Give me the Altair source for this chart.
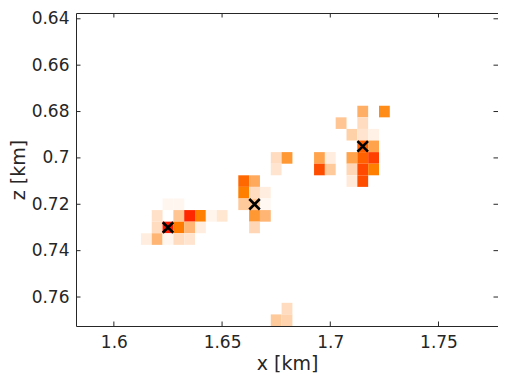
import altair as alt
import pandas as pd

# Heatmap cells (cell centers, km) and their relative intensity
cell_x = [1.625, 1.63,
          1.62, 1.63, 1.635, 1.64, 1.645, 1.65,
          1.62, 1.625, 1.63, 1.635, 1.64,
          1.615, 1.62, 1.625, 1.63, 1.635,
          1.675, 1.68,
          1.675,
          1.66, 1.665,
          1.66, 1.665, 1.67,
          1.66, 1.665, 1.67,
          1.665, 1.67,
          1.665,
          1.715, 1.725,
          1.705, 1.715,
          1.71, 1.715, 1.72,
          1.715, 1.72,
          1.695, 1.70, 1.71, 1.715, 1.72,
          1.695, 1.70, 1.71, 1.715, 1.72,
          1.71, 1.715,
          1.675, 1.68, 1.68]
cell_z = [0.72, 0.72,
          0.725, 0.725, 0.725, 0.725, 0.725, 0.725,
          0.73, 0.73, 0.73, 0.73, 0.73,
          0.735, 0.735, 0.735, 0.735, 0.735,
          0.70, 0.70,
          0.705,
          0.71, 0.71,
          0.715, 0.715, 0.715,
          0.72, 0.72, 0.72,
          0.725, 0.725,
          0.73,
          0.68, 0.68,
          0.685, 0.685,
          0.69, 0.69, 0.69,
          0.695, 0.695,
          0.70, 0.70, 0.70, 0.70, 0.70,
          0.705, 0.705, 0.705, 0.705, 0.705,
          0.71, 0.71,
          0.77, 0.765, 0.77]
cell_v = [0.05, 0.05,
          0.17, 0.30, 0.95, 0.60, 0.06, 0.14,
          0.20, 1.00, 0.62, 0.37, 0.10,
          0.10, 0.37, 0.05, 0.20, 0.15,
          0.20, 0.50,
          0.15,
          0.70, 0.42,
          0.60, 0.20, 0.10,
          0.28, 0.30, 0.04,
          0.50, 0.37,
          0.22,
          0.40, 0.55,
          0.30, 0.20,
          0.25, 0.15, 0.08,
          0.72, 0.45,
          0.45, 0.10, 0.45, 0.72, 0.85,
          0.80, 0.28, 0.22, 0.82, 0.60,
          0.12, 0.80,
          0.28, 0.20, 0.24]

# Markers
marker_x = [1.625, 1.665, 1.715]
marker_z = [0.73, 0.72, 0.695]

# Tick values
x_ticks = [1.6, 1.65, 1.7, 1.75]
z_ticks = [0.64, 0.66, 0.68, 0.70, 0.72, 0.74, 0.76]

X_DOMAIN = [1.5825, 1.7775]
Z_DOMAIN = [0.6375, 0.7725]
HALF = 0.0025
W, H = 422, 313
TXT = "#262626"

cells = pd.DataFrame({"x": cell_x, "z": cell_z, "v": cell_v})
markers = pd.DataFrame({"x": marker_x, "z": marker_z})
xt = pd.DataFrame({"x": x_ticks})
zt = pd.DataFrame({"z": z_ticks})

xscale = alt.Scale(domain=X_DOMAIN, nice=False, zero=False)
zscale = alt.Scale(domain=Z_DOMAIN, nice=False, zero=False, reverse=True)

xaxis = alt.Axis(values=x_ticks, format=".2~f", title="x [km]", ticks=False,
                 domain=False, grid=False, labelPadding=8, titlePadding=4)
zaxis = alt.Axis(values=z_ticks, format=".2~f", title="z [km]", ticks=False,
                 domain=False, grid=False, labelPadding=7, titlePadding=3)

rects = alt.Chart(cells).mark_rect(stroke=None).transform_calculate(
    x0=f"datum.x - {HALF}", x1=f"datum.x + {HALF}",
    z0=f"datum.z - {HALF}", z1=f"datum.z + {HALF}",
).encode(
    x=alt.X("x0:Q", scale=xscale, axis=xaxis, title="x [km]"),
    x2="x1:Q",
    y=alt.Y("z0:Q", scale=zscale, axis=zaxis, title="z [km]"),
    y2="z1:Q",
    color=alt.Color("v:Q", legend=None, scale=alt.Scale(
        domain=[0, 0.2, 0.4, 0.6, 0.8, 1.0],
        range=["#ffffff", "#ffdcbf", "#ffae66", "#ff8000", "#ff4d00", "#ff1a00"],
        interpolate="rgb")),
)

pts = alt.Chart(markers).mark_point(
    shape="M-1,-1L1,1M1,-1L-1,1", size=110, strokeWidth=2.6, color="black",
    filled=False, opacity=1,
).encode(
    x=alt.X("x:Q", scale=xscale, title="x [km]"),
    y=alt.Y("z:Q", scale=zscale, title="z [km]"),
)

TL = 4.5
xt_bot = alt.Chart(xt).mark_rule(color=TXT, strokeWidth=1).encode(
    x=alt.X("x:Q", scale=xscale, title="x [km]"), y=alt.value(H), y2=alt.value(H - TL))
xt_top = alt.Chart(xt).mark_rule(color=TXT, strokeWidth=1).encode(
    x=alt.X("x:Q", scale=xscale, title="x [km]"), y=alt.value(0), y2=alt.value(TL))
zt_left = alt.Chart(zt).mark_rule(color=TXT, strokeWidth=1).encode(
    y=alt.Y("z:Q", scale=zscale, title="z [km]"), x=alt.value(0), x2=alt.value(TL))
zt_right = alt.Chart(zt).mark_rule(color=TXT, strokeWidth=1).encode(
    y=alt.Y("z:Q", scale=zscale, title="z [km]"), x=alt.value(W), x2=alt.value(W - TL))

chart = alt.layer(rects, pts, xt_bot, xt_top, zt_left, zt_right).properties(
    width=W, height=H,
    autosize=alt.AutoSizeParams(type="none"),
    padding={"left": 68, "top": 5, "right": 0, "bottom": 56},
).configure_view(
    stroke=TXT, strokeWidth=1,
).configure_axis(
    labelFont="DejaVu Sans", labelFontSize=17, labelColor=TXT,
    titleFont="DejaVu Sans", titleFontSize=19, titleColor=TXT,
    titleFontWeight="normal",
)

chart.save("out.html", embed_options={"renderer": "svg", "actions": False})
